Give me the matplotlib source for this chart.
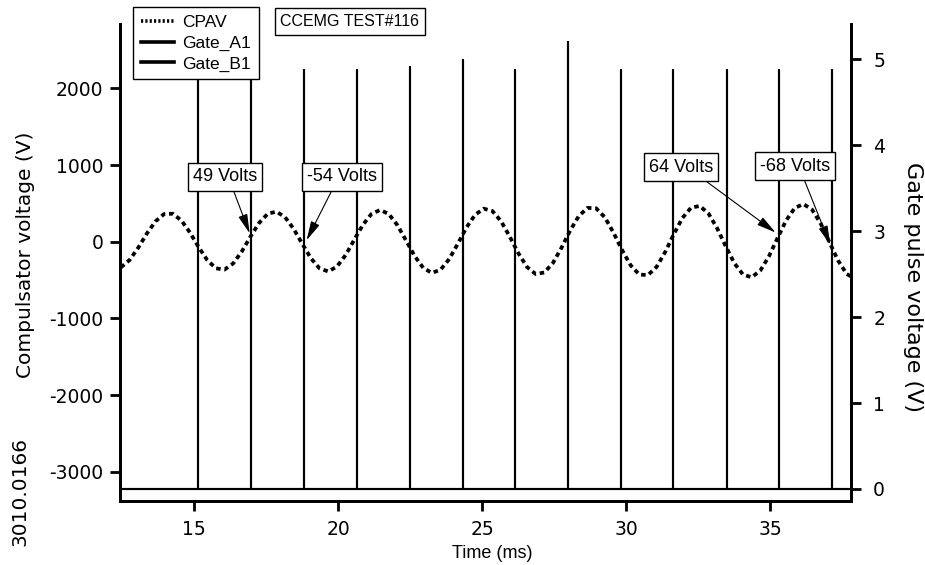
import numpy as np
import matplotlib
matplotlib.use("Agg")
import matplotlib.pyplot as plt
from matplotlib.lines import Line2D

plt.rcParams["font.family"] = ["Liberation Sans", "DejaVu Sans"]
plt.rcParams["axes.unicode_minus"] = False

# CPAV samples (ms, V)
cpav_t = [12.45, 12.75, 13.05, 13.35, 13.65, 13.95, 14.25, 14.55, 14.85, 15.15,
          15.45, 15.75, 16.05, 16.35, 16.65, 16.95, 17.25, 17.55, 17.85, 18.15,
          18.45, 18.75, 19.05, 19.35, 19.65, 19.95, 20.25, 20.55, 20.85, 21.15,
          21.45, 21.75, 22.05, 22.35, 22.65, 22.95, 23.25, 23.55, 23.85, 24.15,
          24.45, 24.75, 25.05, 25.35, 25.65, 25.95, 26.25, 26.55, 26.85, 27.15,
          27.45, 27.75, 28.05, 28.35, 28.65, 28.95, 29.25, 29.55, 29.85, 30.15,
          30.45, 30.75, 31.05, 31.35, 31.65, 31.95, 32.25, 32.55, 32.85, 33.15,
          33.45, 33.75, 34.05, 34.35, 34.65, 34.95, 35.25, 35.55, 35.85, 36.15,
          36.45, 36.75, 37.05, 37.35, 37.65, 37.95]
cpav_v = [-335, -240, -80, 105, 265, 361, 365, 278, 119, -70,
          -240, -347, -363, -283, -127, 66, 245, 365, 392, 320,
          167, -29, -217, -348, -388, -325, -176, 23, 219, 362,
          414, 362, 217, 17, -187, -342, -407, -365, -226, -26,
          186, 352, 431, 400, 268, 67, -150, -329, -421, -402,
          -278, -78, 146, 335, 441, 436, 319, 121, -108, -308,
          -428, -435, -328, -133, 100, 311, 445, 466, 369, 177,
          -59, -280, -428, -464, -377, -191, 49, 279, 441, 491,
          417, 236, -5, -245, -420, -486]

# gate pulses (ms) and their peak heights (V)
gate_a_t = [15.13, 18.81, 22.49, 26.14, 29.82, 33.50, 37.14]
gate_a_h = [4.79, 4.87, 4.91, 4.87, 4.87, 4.87, 4.87]
gate_b_t = [16.97, 20.65, 24.33, 27.98, 31.63, 35.30]
gate_b_h = [4.79, 4.87, 4.99, 5.20, 4.87, 4.87]

notes = ["49 Volts", "-54 Volts", "64 Volts", "-68 Volts"]
note_xy = [(16.92, 110), (18.90, 20), (35.18, 120), (37.08, -40)]
note_text = [(16.07, 844), (20.13, 844), (31.90, 974), (35.86, 987)]
note_rel = [0.6, 0.39, 0.77, 0.6]

t0, t1 = 12.42, 37.80
WIDE = ["DejaVu Sans"]


def pulse_trace(ts, hs):
    x, y = [t0], [0]
    for t, h in zip(ts, hs):
        x += [t, t, t]
        y += [0, h, 0]
    x.append(t1)
    y.append(0)
    return x, y


fig = plt.figure(figsize=(9.25, 5.65), dpi=100)
ax = fig.add_axes([120 / 925, 1 - 501 / 565, 731 / 925, 477 / 565])
ax2 = ax.twinx()
ax.set_zorder(ax2.get_zorder() + 1)
ax.patch.set_visible(False)

ax.plot(cpav_t, cpav_v, color="black", lw=2.7, ls=(0, (1.2, 1.0)))
xa, ya = pulse_trace(gate_a_t, gate_a_h)
xb, yb = pulse_trace(gate_b_t, gate_b_h)
ax2.plot(xa, ya, color="black", lw=1.5)
ax2.plot(xb, yb, color="black", lw=1.5)

ax.set_xlim(t0, t1)
ax.set_ylim(-3381, 2839)
ax2.set_ylim(-0.14, 5.41)
ax.set_xticks([15, 20, 25, 30, 35])
ax.set_yticks([-3000, -2000, -1000, 0, 1000, 2000])
ax2.set_yticks([0, 1, 2, 3, 4, 5])

for a in (ax, ax2):
    a.spines["top"].set_visible(False)
    for s in ("left", "right", "bottom"):
        a.spines[s].set_linewidth(2)
    a.tick_params(width=2, length=7, labelsize=13.5, direction="out")
    for lab in a.get_xticklabels() + a.get_yticklabels():
        lab.set_family(WIDE)
ax.tick_params(axis="y", pad=5)
ax.tick_params(axis="x", pad=7)
ax2.tick_params(axis="y", pad=9)

for txt, xy, xyt, rp in zip(notes, note_xy, note_text, note_rel):
    ax.annotate(txt, xy=xy, xytext=xyt, ha="center", va="center", fontsize=13,
                bbox=dict(boxstyle="square,pad=0.28", fc="white", ec="black", lw=1),
                arrowprops=dict(arrowstyle="-|>,head_length=0.9,head_width=0.22",
                                color="black", lw=0.8, relpos=(rp, 0),
                                shrinkA=0, shrinkB=0))

fig.text(26 / 925, 1 - 255 / 565, "Compulsator voltage (V)", rotation=90,
         ha="center", va="center", fontsize=14.5, family=WIDE)
fig.text(913 / 925, 1 - 287 / 565, "Gate pulse voltage (V)", rotation=270,
         ha="center", va="center", fontsize=16, family=WIDE)
fig.text(492 / 925, 1 - 553 / 565, "Time (ms)", ha="center", va="center",
         fontsize=13)
fig.text(20 / 925, 1 - 492 / 565, "3010.0166", rotation=90, ha="center",
         va="center", fontsize=14.5, family=WIDE)
fig.text(350 / 925, 1 - 21.5 / 565, "CCEMG TEST#116", ha="center", va="center",
         fontsize=11.5,
         bbox=dict(boxstyle="square,pad=0.35", fc="white", ec="black", lw=1))

handles = [Line2D([], [], color="black", lw=2.6, ls=(0, (0.6, 0.6))),
           Line2D([], [], color="black", lw=2.6),
           Line2D([], [], color="black", lw=2.6)]
leg = fig.legend(handles, ["CPAV", "Gate_A1", "Gate_B1"], loc="upper left",
                 bbox_to_anchor=(133 / 925, 1 - 7 / 565), fontsize=12.5,
                 frameon=True, fancybox=False, edgecolor="black", framealpha=1,
                 borderaxespad=0, handlelength=1.9, labelspacing=0.32,
                 borderpad=0.45, handletextpad=0.5)
leg.get_frame().set_linewidth(1)

fig.savefig("out.png", dpi=100)
